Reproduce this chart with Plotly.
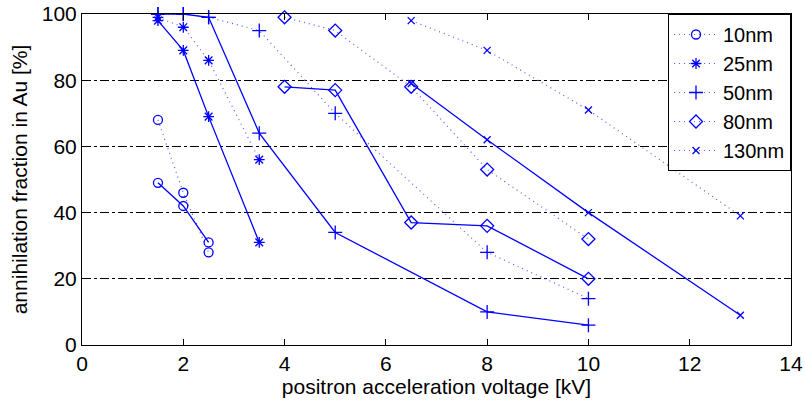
import plotly.graph_objects as go

labels = ["10nm", "25nm", "50nm", "80nm", "130nm"]
symbols = ["circle-open", "asterisk-open", "cross-thin-open", "diamond-open", "x-thin-open"]

# dotted series (shown in legend)
dot_x = [
    [1.5, 2, 2.5],
    [1.5, 2, 2.5, 3.5],
    [1.5, 2, 2.5, 3.5, 5, 8, 10],
    [4, 5, 6.5, 8, 10],
    [6.5, 8, 10, 13],
]
dot_y = [
    [68, 46, 28],
    [99, 96, 86, 56],
    [100, 100, 99, 95, 70, 28, 14],
    [99, 95, 78, 53, 32],
    [98, 89, 71, 39],
]
# solid series
sol_x = [
    [1.5, 2, 2.5],
    [1.5, 2, 2.5, 3.5],
    [1.5, 2, 2.5, 3.5, 5, 8, 10],
    [4, 5, 6.5, 8, 10],
    [6.5, 8, 10, 13],
]
sol_y = [
    [49, 42, 31],
    [98, 89, 69, 31],
    [100, 100, 99, 64, 34, 10, 6],
    [78, 77, 37, 36, 20],
    [79, 62, 40, 9],
]

blue = "#0000ff"
msize = [9, 9, 10, 10, 7]
fig = go.Figure()
for i, lab in enumerate(labels):
    fig.add_trace(go.Scatter(
        x=dot_x[i], y=dot_y[i], name=lab, mode="lines+markers",
        line=dict(color="#5a5aff", width=1.2, dash="1px,4px"),
        marker=dict(symbol=symbols[i], size=msize[i], color=blue, line=dict(width=1.3, color=blue)),
        cliponaxis=False,
    ))
for i, lab in enumerate(labels):
    fig.add_trace(go.Scatter(
        x=sol_x[i], y=sol_y[i], name=lab, mode="lines+markers", showlegend=False,
        line=dict(color=blue, width=1.3),
        marker=dict(symbol=symbols[i], size=msize[i], color=blue, line=dict(width=1.3, color=blue)),
        cliponaxis=False,
    ))

FS = 21
axis_common = dict(
    showline=True, linecolor="black", linewidth=1, mirror="ticks",
    ticks="inside", ticklen=6, tickcolor="black",
    tickfont=dict(family="Liberation Sans, Arial", size=FS, color="black"),
    zeroline=False, automargin=False,
)
fig.update_layout(
    width=805, height=401,
    margin=dict(l=82, r=14, t=14, b=56, autoexpand=False),
    paper_bgcolor="white", plot_bgcolor="white",
    font=dict(family="Liberation Sans, Arial", size=FS, color="black"),
    xaxis=dict(range=[0, 14], dtick=2, showgrid=False,
               title=dict(text="positron acceleration voltage [kV]", font=dict(size=FS), standoff=0),
               **axis_common),
    yaxis=dict(range=[0, 100], dtick=20, showgrid=True, gridcolor="black", gridwidth=1,
               griddash="dashdot",
               title=dict(text="annihilation fraction in Au [%]", font=dict(size=FS), standoff=8),
               **axis_common),
    legend=dict(x=1, y=1.0, xref="paper", yref="paper", xanchor="right", yanchor="top",
                bordercolor="black", borderwidth=1,
                bgcolor="white", font=dict(size=20), tracegroupgap=0, itemwidth=44),
    showlegend=True,
)
fig.write_html("out.html")
